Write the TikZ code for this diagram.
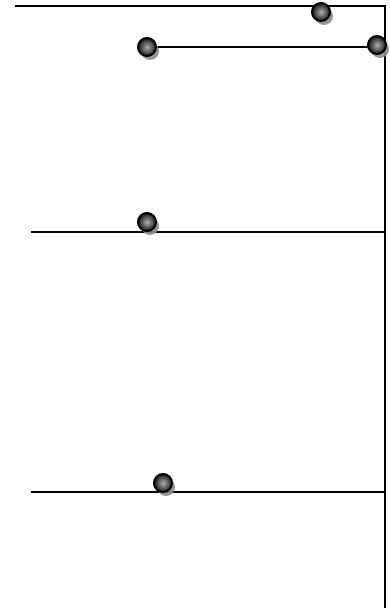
\documentclass[tikz,border=0pt]{standalone}
\usetikzlibrary{shadows}
\begin{document}
\begin{tikzpicture}[x=1pt,y=-1pt,
  wire/.style={line width=1.3pt,black},
  ball/.style={circle,minimum size=18pt,inner sep=0pt,draw=black,line width=2pt,
    inner color=gray!65,outer color=black!90,
    drop shadow={shadow xshift=3pt,shadow yshift=-4pt,fill=black!45,opacity=0.9}}]
\useasboundingbox (0,0) rectangle (389,608);
% corners
\coordinate (tl) at (15,6);
\coordinate (tr) at (385,6);
\coordinate (br) at (385,608);
\coordinate (m1l) at (31,232);
\coordinate (m1r) at (385,232);
\coordinate (m2l) at (31,492);
\coordinate (m2r) at (385,492);
\draw[wire] (tl) -- (tr) -- (br);
\draw[wire] (m1l) -- (m1r);
\draw[wire] (m2l) -- (m2r);
\coordinate (b2c) at (147,47);
\coordinate (b3c) at (377,47);
\draw[wire] (b2c) -- (b3c);
\node[ball] (b1) at (321,12) {};
\node[ball] (b2) at (b2c) {};
\node[ball] (b3) at (377,45) {};
\node[ball] (b4) at (147,222) {};
\node[ball] (b5) at (163,483) {};
\end{tikzpicture}
\end{document}
